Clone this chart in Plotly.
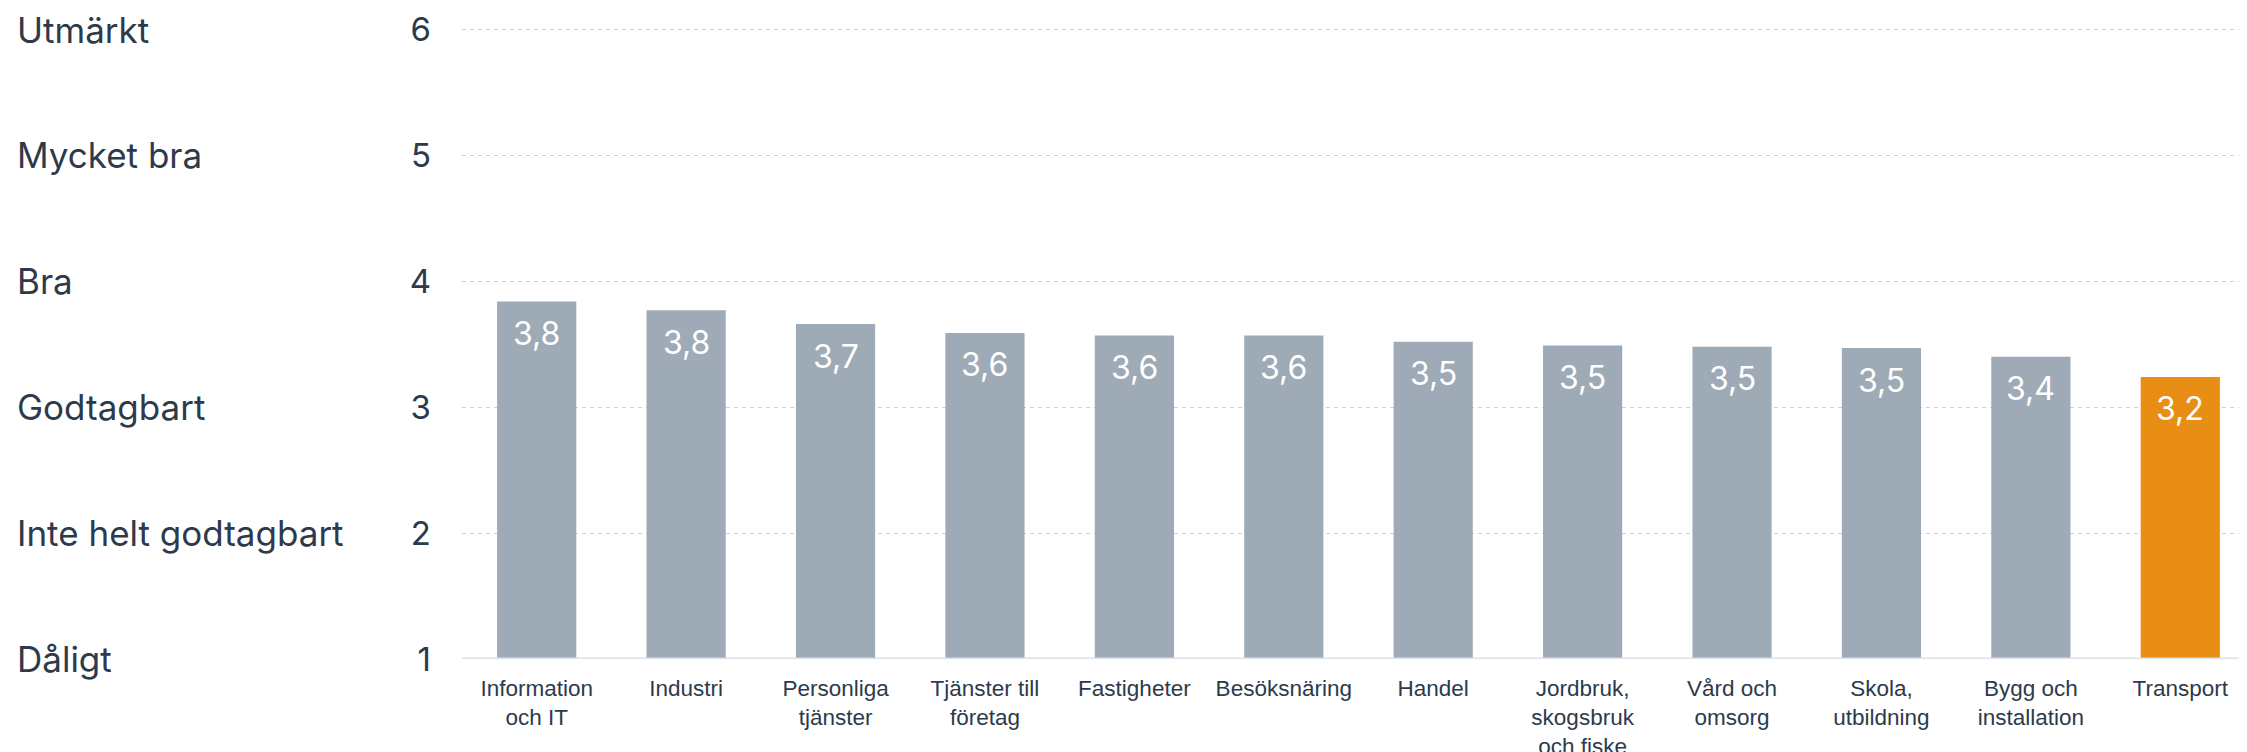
import plotly.graph_objects as go

categories = ["Information<br>och IT", "Industri", "Personliga<br>tjänster", "Tjänster till<br>företag",
              "Fastigheter", "Besöksnäring", "Handel", "Jordbruk,<br>skogsbruk<br>och fiske",
              "Vård och<br>omsorg", "Skola,<br>utbildning", "Bygg och<br>installation", "Transport"]
values = [3.84, 3.77, 3.66, 3.59, 3.57, 3.57, 3.52, 3.49, 3.48, 3.47, 3.40, 3.24]
highlight = "Transport"
scale_values = [1, 2, 3, 4, 5, 6]
scale_labels = ["Dåligt", "Inte helt godtagbart", "Godtagbart", "Bra", "Mycket bra", "Utmärkt"]

GREY = "#9eaab5"
ORANGE = "#e88e15"
TEXT = "#2d3a4b"

colors = [ORANGE if c == highlight else GREY for c in categories]

fig = go.Figure()
fig.add_trace(go.Bar(
    x=categories, y=values, marker=dict(color=colors, line=dict(width=0)),
    width=0.53, hoverinfo="x+y", showlegend=False,
))

annotations = []
for c, v in zip(categories, values):
    annotations.append(dict(
        x=c, y=v, xref="x", yref="y", text=f"{v:.1f}".replace(".", ","),
        showarrow=False, yanchor="middle", yshift=-32,
        font=dict(family="Inter, Open Sans, sans-serif", size=32, color="white"),
    ))
for sv, sl in zip(scale_values, scale_labels):
    annotations.append(dict(
        x=0, y=sv, xref="paper", yref="y", text=sl, showarrow=False,
        xanchor="left", yanchor="middle", xshift=-447,
        font=dict(family="Inter, sans-serif", size=35, color=TEXT),
    ))

fig.update_layout(
    width=2247, height=752,
    margin=dict(l=454, r=0, t=19, b=101),
    paper_bgcolor="white", plot_bgcolor="white",
    annotations=annotations,
    xaxis=dict(
        showgrid=False, showline=False, zeroline=False, ticks="",
        tickfont=dict(family="Liberation Sans, Arial, sans-serif", size=22.5, color=TEXT),
        ticklabelstandoff=13,
    ),
    yaxis=dict(
        range=[1, 6.02], tickvals=scale_values, ticktext=[str(v) for v in scale_values],
        showgrid=True, gridcolor="#cfcfcf", griddash="4px,4px", gridwidth=1,
        zeroline=False, showline=False, ticks="",
        tickfont=dict(family="Inter, sans-serif", size=33, color=TEXT),
        ticklabelstandoff=30,
    ),
    shapes=[dict(type="line", xref="paper", yref="y", x0=0, x1=1, y0=1, y1=1,
                 line=dict(color="#dce2e8", width=3))],
)

fig.write_html("out.html")
